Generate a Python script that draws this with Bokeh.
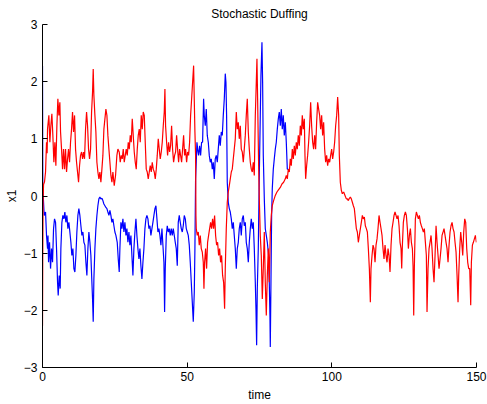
from bokeh.plotting import figure
from bokeh.models import FixedTicker, Range1d
from bokeh.embed import file_html
from bokeh.resources import INLINE

x_ticks = [0, 50, 100, 150]
y_ticks = [-3, -2, -1, 0, 1, 2, 3]

# red trajectory: (time, x1)
red = [
    (0.0, -2.27), (0.08, -1.16), (0.2, -0.1), (0.36, 0.2), (0.7, 0.25), (1.05, 0.42), (1.39, 0.94), (1.6, 0.75),
    (1.74, 1.17), (2.2, 1.41), (2.55, 0.94), (2.89, 1.23), (3.24, 1.44), (3.58, 1.06), (3.93, 0.59), (4.28, 0.94),
    (4.62, 0.53), (4.97, 1.23), (5.31, 1.70), (5.66, 1.41), (6.0, 1.64), (6.24, 1.12), (6.58, 0.82), (6.93, 0.47),
    (7.27, 0.82), (7.62, 0.47), (7.96, 0.82), (8.31, 0.42), (8.66, 0.65), (9.0, 0.82), (9.35, 0.59), (9.69, 0.94),
    (10.04, 1.17), (10.38, 1.47), (10.73, 1.12), (11.08, 1.41), (11.42, 0.82), (11.77, 0.59), (12.11, 0.42),
    (12.46, 0.24), (12.8, 0.53), (13.15, 0.71), (13.5, 0.77), (13.84, 0.65), (14.19, 0.77), (14.53, 0.65),
    (14.88, 1.17), (15.23, 1.47), (15.57, 1.23), (15.92, 0.82), (16.26, 0.65), (16.61, 0.82), (16.96, 1.47),
    (17.3, 1.82), (17.53, 2.22), (17.76, 1.76), (18.11, 1.41), (18.45, 1.12), (18.8, 0.59), (19.14, 0.42),
    (19.49, 0.30), (19.83, 0.42), (20.18, 0.24), (20.53, 0.47), (20.87, 0.71), (21.22, 1.17), (21.57, 1.35),
    (21.91, 1.52), (22.26, 1.41), (22.6, 1.06), (22.95, 0.82), (23.3, 0.59), (23.64, 0.36), (23.99, 0.24),
    (24.33, 0.42), (24.79, 0.18), (25.25, 0.36), (25.71, 0.71), (26.06, 0.82),
    (26.52, 0.77), (26.87, 0.59), (27.21, 0.71), (27.56, 0.65), (27.91, 0.82), (28.25, 0.59), (28.6, 0.71),
    (28.94, 0.82), (29.29, 0.71), (29.64, 0.94), (29.98, 0.82), (30.33, 1.06), (30.67, 0.94), (31.02, 1.35),
    (31.36, 1.06), (31.71, 0.77), (32.06, 0.59), (32.4, 0.47), (32.75, 0.82), (33.09, 1.06), (33.44, 1.17),
    (33.78, 0.94), (34.13, 1.41), (34.48, 1.17), (34.82, 1.47), (35.17, 1.41), (35.51, 0.94), (35.86, 0.47),
    (36.2, 0.42), (36.55, 0.30), (36.9, 0.42), (37.24, 0.53), (37.59, 0.42), (37.93, 0.59), (38.28, 0.47),
    (38.63, 0.42), (38.97, 0.30), (39.32, 0.47), (39.66, 0.71), (40.01, 1.00), (40.35, 0.82), (40.7, 0.65),
    (41.05, 0.77), (41.39, 0.94), (41.74, 1.23), (42.08, 1.47), (42.31, 1.87), (42.54, 1.23), (42.89, 0.94),
    (43.24, 0.71), (43.58, 0.94), (43.93, 0.77), (44.27, 0.88), (44.62, 1.23), (44.96, 0.82), (45.31, 0.59),
    (45.66, 0.71), (46.0, 0.77), (46.35, 1.06), (46.69, 0.82), (47.04, 0.59), (47.39, 0.82), (47.73, 0.71),
    (48.08, 0.59), (48.42, 0.82), (48.77, 1.06), (49.11, 0.71), (49.46, 0.82), (49.81, 0.59), (50.15, 0.77),
    (50.5, 0.71), (50.84, 0.94), (51.19, 1.41), (51.54, 1.70), (51.88, 1.99), (52.23, 2.28),
    (52.45, 1.70), (52.68, 1.12), (52.91, 0.71), (53.03, -0.34), (53.14, -0.57), (53.49, -0.69), (53.84, -0.63),
    (54.18, -0.86), (54.53, -0.69), (54.87, -0.92), (55.22, -0.98), (55.57, -1.16), (55.8, -1.62), (56.03, -1.16),
    (56.37, -0.92), (56.72, -1.27), (57.06, -0.81), (57.41, -0.69), (57.76, -0.57), (58.1, -0.46), (58.45, -0.57),
    (58.79, -0.40), (59.14, -0.57), (59.48, -0.34), (59.83, -0.69), (60.18, -0.86), (60.52, -0.81), (60.87, -1.04),
    (61.21, -0.92), (61.56, -1.16), (61.9, -1.04), (62.25, -1.39), (62.6, -1.51), (62.94, -1.97), (63.17, -1.27),
    (63.52, -0.57), (63.86, -0.11), (64.21, 0.07), (64.56, 0.18), (64.9, 0.30), (65.25, 0.42), (65.59, 0.47),
    (65.94, 0.65), (66.28, 0.82), (66.63, 1.00), (66.98, 1.47), (67.32, 1.17), (67.67, 1.29), (68.01, 1.00),
    (68.36, 1.23), (68.7, 0.82), (69.05, 0.77), (69.4, 0.59), (69.74, 0.82), (70.09, 1.06), (70.43, 1.41),
    (70.78, 1.70), (71.13, 1.12), (71.47, 0.82), (71.82, 0.59), (72.16, 0.47), (72.51, 0.42), (72.85, 0.59),
    (73.2, 0.36), (73.55, 1.41), (73.89, 1.99), (74.12, 2.40), (74.35, 1.70), (74.7, 0.53), (74.93, -0.05),
    (75.27, -0.69), (75.62, -1.04), (75.97, -1.80), (76.31, -1.27), (76.66, -0.63), (77.0, -1.51), (77.35, -2.09),
    (77.7, -1.39), (78.04, -0.92), (78.38, -1.51),
    (78.73, -0.63), (79.07, -0.34), (79.42, -0.17), (79.88, -0.08), (80.46, 0.01), (81.03, 0.07), (81.61, 0.11),
    (82.19, 0.15), (82.76, 0.21), (83.34, 0.24), (83.92, 0.30), (84.26, 0.36), (84.61, 0.30), (84.95, 0.47),
    (85.3, 0.42), (85.64, 0.65), (85.99, 0.53), (86.34, 0.82), (86.68, 0.65), (87.03, 0.88), (87.37, 0.71),
    (87.72, 0.94), (88.06, 0.82), (88.41, 1.06), (88.76, 0.88), (89.1, 1.23), (89.45, 1.06), (89.79, 1.41),
    (90.14, 1.17), (90.49, 1.35), (90.72, 0.71), (90.95, 0.30), (91.29, 0.53), (91.64, 0.71), (91.98, 0.94),
    (92.33, 1.23), (92.68, 1.64), (93.02, 1.23), (93.37, 0.94), (93.71, 0.82), (94.06, 1.06), (94.4, 0.82),
    (94.75, 1.29), (95.1, 1.64), (95.44, 1.52), (95.79, 1.41), (96.13, 1.17), (96.48, 1.41), (96.82, 1.06),
    (97.17, 1.29), (97.52, 0.82), (97.86, 0.59), (98.21, 0.71), (98.55, 0.53), (98.9, 0.65), (99.25, 0.59),
    (99.59, 0.71), (99.94, 0.82), (100.28, 0.65), (100.63, 0.77), (100.97, 0.94), (101.32, 1.23), (101.67, 1.41),
    (102.01, 1.73), (102.36, 1.41), (102.59, 0.71), (102.93, 0.24), (103.28, 0.10), (103.63, 0.04), (104.09, 0.07),
    (104.55, 0.01),
    (105.01, -0.05), (105.36, -0.05), (105.71, -0.08), (106.05, -0.04), (106.4, -0.02), (106.74, -0.05),
    (107.09, -0.11), (107.44, -0.17), (107.78, -0.22), (108.13, -0.40), (108.47, -0.57), (108.82, -0.63),
    (109.16, -0.81), (109.51, -0.69), (109.86, -0.57), (110.2, -0.46), (110.55, -0.34), (110.89, -0.40),
    (111.24, -0.37), (111.58, -0.52), (111.93, -0.57), (112.28, -0.63), (112.62, -0.92), (112.97, -1.27),
    (113.31, -1.86), (113.54, -1.27), (113.89, -1.04), (114.24, -0.86), (114.58, -0.92), (114.93, -1.16),
    (115.27, -0.86), (115.62, -0.75), (115.96, -0.57), (116.31, -0.34), (116.66, -0.46), (117.0, -0.57),
    (117.35, -0.69), (117.69, -0.92), (118.04, -1.10), (118.39, -0.86), (118.73, -1.04), (119.08, -1.16),
    (119.42, -0.92), (119.77, -1.04), (120.11, -1.33), (120.46, -0.86), (120.81, -0.57), (121.15, -0.46),
    (121.5, -0.34), (121.84, -0.28), (122.19, -0.34), (122.53, -0.40), (122.88, -0.34), (123.23, -0.52),
    (123.57, -0.81), (123.92, -0.92), (124.15, -1.27), (124.38, -0.86), (124.72, -0.46), (125.07, -0.34),
    (125.42, -0.28), (125.76, -0.34), (126.11, -0.57), (126.45, -0.92), (126.8, -0.69), (127.15, -0.57),
    (127.49, -0.81), (127.84, -0.92), (128.07, -1.22), (128.3, -2.09), (128.53, -1.22), (128.87, -0.40),
    (129.22, -0.28), (129.56, -0.34), (129.91, -0.40), (130.26, -0.34), (130.6, -0.46),
    (130.94, -0.52), (131.29, -0.57), (131.64, -0.63), (131.98, -0.57), (132.33, -0.81), (132.67, -1.04),
    (132.9, -2.03), (133.25, -1.27), (133.6, -0.92), (133.94, -0.81), (134.29, -0.69), (134.63, -0.92),
    (134.98, -1.27), (135.32, -1.51), (135.67, -1.04), (136.02, -0.52), (136.36, -0.81), (136.71, -1.04),
    (137.05, -1.27), (137.4, -1.10), (137.74, -0.92), (138.09, -0.69), (138.44, -0.63), (138.78, -0.57),
    (139.13, -0.69), (139.47, -0.81), (139.82, -0.92), (140.16, -1.16), (140.51, -0.86), (140.86, -0.63),
    (141.2, -0.52), (141.55, -0.46), (141.89, -0.57), (142.24, -0.63), (142.58, -0.81), (142.93, -0.98),
    (143.28, -1.39), (143.62, -1.86), (143.85, -1.39), (144.2, -0.92), (144.54, -0.63), (144.89, -0.81),
    (145.24, -1.04), (145.58, -0.63), (145.93, -0.40), (146.27, -0.46), (146.62, -0.92), (146.96, -1.16),
    (147.31, -1.27), (147.66, -1.27), (148.0, -1.91), (148.23, -1.16), (148.58, -0.86), (148.92, -0.81),
    (149.27, -0.75), (149.62, -0.69), (149.96, -0.81),
]

# blue trajectory: (time, x1), merges with red near t = 85
blue = [
    (0.0, 2.28), (0.1, 0.24), (0.36, -0.11), (0.59, -0.34), (1.05, -0.28), (1.39, -0.69), (1.74, -0.92),
    (1.9, -0.69), (2.09, -1.16), (2.43, -0.81), (2.78, -1.27), (3.12, -0.92), (3.47, -1.16), (3.82, -0.57),
    (4.16, -0.40), (4.51, -0.46), (4.85, -0.92), (5.2, -1.51), (5.43, -1.74), (5.77, -1.39), (6.12, -1.62),
    (6.35, -0.92), (6.7, -0.46), (7.04, -0.34), (7.39, -0.40), (7.73, -0.28), (8.08, -0.46), (8.43, -0.34),
    (8.77, -0.57), (9.12, -0.46), (9.46, -0.63), (9.81, -0.81), (10.15, -1.04), (10.5, -0.92), (10.85, -1.27),
    (11.19, -1.33), (11.54, -1.04), (11.88, -0.63), (12.23, -0.34), (12.57, -0.22), (12.92, -0.34),
    (13.27, -0.52), (13.61, -0.69), (13.96, -0.63), (14.3, -0.81), (14.65, -0.86), (15.0, -1.16),
    (15.34, -1.39), (15.69, -0.92), (16.03, -0.63), (16.38, -0.81), (16.72, -1.04), (17.07, -1.51),
    (17.3, -1.80), (17.53, -2.20), (17.76, -1.45), (18.11, -0.92), (18.45, -0.57), (18.8, -0.34),
    (19.14, -0.17), (19.49, -0.05), (19.83, -0.02), (20.18, -0.05), (20.53, -0.04), (20.87, -0.08),
    (21.22, -0.14), (21.57, -0.17), (21.91, -0.20), (22.26, -0.22), (22.6, -0.28), (22.95, -0.34),
    (23.3, -0.25), (23.64, -0.34), (23.99, -0.46), (24.33, -0.40), (24.68, -0.52), (25.02, -0.63),
    (25.37, -0.69), (25.83, -0.81), (26.18, -1.10), (26.52, -1.33), (26.75, -0.92), (27.1, -0.46),
    (27.45, -0.57), (27.79, -0.40), (28.14, -0.63), (28.48, -0.46), (28.83, -0.69), (29.17, -0.57),
    (29.52, -0.81), (29.87, -0.63), (30.21, -0.86), (30.56, -0.69), (30.9, -1.04), (31.25, -1.39),
    (31.59, -0.92), (31.94, -0.63), (32.29, -0.40), (32.63, -0.69), (32.98, -0.92), (33.32, -1.10),
    (33.67, -0.92), (34.01, -1.22), (34.36, -1.45), (34.71, -1.16), (35.05, -0.92), (35.4, -0.57),
    (35.74, -0.40), (36.09, -0.34), (36.44, -0.40), (36.78, -0.57), (37.13, -0.52), (37.47, -0.69),
    (37.82, -0.57), (38.16, -0.46), (38.51, -0.34), (38.86, -0.22), (39.2, -0.17), (39.55, -0.40),
    (39.89, -0.63), (40.24, -0.57), (40.58, -0.69), (40.93, -0.86), (41.28, -0.57), (41.62, -0.86),
    (41.97, -1.16), (42.2, -2.03), (42.43, -1.27), (42.78, -0.69), (43.12, -0.52), (43.47, -0.63),
    (43.81, -0.57), (44.16, -0.69), (44.5, -0.57), (44.85, -0.69), (45.2, -0.57), (45.54, -0.69),
    (45.89, -0.81), (46.23, -0.92), (46.58, -1.22), (46.92, -0.46), (47.27, -0.34), (47.62, -0.46),
    (47.96, -0.57), (48.31, -0.63), (48.65, -0.52), (49.0, -0.34), (49.35, -0.40), (49.69, -0.57),
    (50.04, -0.63), (50.38, -0.69), (50.73, -0.86), (51.07, -1.16), (51.42, -1.51), (51.77, -1.86),
    (52.11, -2.20), (52.46, -1.68), (52.68, -0.92), (52.91, 0.30), (53.14, 0.59), (53.38, 0.94),
    (53.61, 0.82), (53.95, 0.71), (54.3, 0.88), (54.64, 0.71), (54.99, 0.94), (55.33, 0.94), (55.68, 1.70),
    (55.91, 1.41), (56.26, 1.23), (56.6, 1.52), (56.95, 1.06), (57.3, 0.94), (57.64, 0.71), (57.99, 0.59),
    (58.33, 0.65), (58.68, 0.47), (59.02, 0.59), (59.37, 0.30), (59.71, 0.65), (60.06, 0.71), (60.41, 0.59),
    (60.75, 0.82), (61.1, 1.06), (61.44, 0.88), (61.79, 1.12), (62.14, 1.06), (62.48, 1.41), (62.83, 1.70),
    (63.17, 2.14), (63.4, 1.99), (63.63, 1.41), (63.86, 0.24), (64.21, -0.11), (64.56, -0.22), (64.9, -0.28),
    (65.25, -0.40), (65.59, -0.57), (65.94, -0.46), (66.28, -0.69), (66.63, -0.92), (66.98, -1.27),
    (67.32, -0.92), (67.67, -0.81), (68.01, -0.57), (68.36, -0.46), (68.7, -0.69), (69.05, -0.40),
    (69.4, -0.34), (69.74, -0.52), (70.09, -0.46), (70.43, -0.81), (70.78, -0.92), (71.13, -1.16),
    (71.47, -0.81), (71.82, -0.57), (72.16, -0.40), (72.51, -0.57), (72.85, -0.46), (73.2, -0.92),
    (73.55, -1.51), (73.78, -1.97), (74.01, -2.61), (74.24, -1.62), (74.58, -0.92), (74.93, 0.36),
    (75.27, 1.41), (75.5, 2.11), (75.85, 2.69), (76.08, 1.99), (76.31, 0.71), (76.66, -0.05), (77.0, -0.57),
    (77.35, -0.69), (77.7, -0.81), (77.92, -0.92), (78.15, -1.04), (78.38, -1.51), (78.61, -2.09),
    (78.73, -2.64), (78.96, -1.51), (79.19, -0.34), (79.42, 0.13), (79.77, 0.47), (80.11, 0.65),
    (80.46, 0.82), (80.8, 0.94), (81.15, 1.17), (81.5, 1.35), (81.84, 1.47), (82.19, 1.23), (82.53, 1.52),
    (82.88, 1.17), (83.22, 1.41), (83.57, 1.06), (83.92, 1.29), (84.26, 0.94), (84.61, 0.47), (84.95, 0.47),
]

red_time = [t for t, _ in red]
red_x1 = [v for _, v in red]
blue_time = [t for t, _ in blue]
blue_x1 = [v for _, v in blue]

FONT = "Liberation Sans"

p = figure(width=487, height=404, output_backend="svg", toolbar_location=None,
           x_range=Range1d(0, 150), y_range=Range1d(-3, 3),
           min_border_left=42, min_border_right=11, min_border_top=23, min_border_bottom=37)

p.title.text = "Stochastic Duffing"
p.title.align = "center"
p.title.text_font = FONT
p.title.text_font_size = "12px"
p.title.text_font_style = "normal"
p.title.text_color = "black"
p.title.standoff = 8

p.line(blue_time, blue_x1, line_color="#0000ff", line_width=1.2)
p.line(red_time, red_x1, line_color="#ff0000", line_width=1.2)

p.grid.visible = False
p.outline_line_color = None
p.background_fill_color = "white"
p.border_fill_color = "white"

for ax in (p.xaxis[0], p.yaxis[0]):
    ax.major_tick_in = 5
    ax.major_tick_out = 0
    ax.minor_tick_line_color = None
    ax.axis_line_color = "black"
    ax.major_tick_line_color = "black"
    ax.major_label_text_font = FONT
    ax.major_label_text_font_size = "12px"
    ax.major_label_text_color = "black"
    ax.axis_label_text_font = FONT
    ax.axis_label_text_font_size = "12px"
    ax.axis_label_text_font_style = "normal"
    ax.axis_label_text_color = "black"

p.xaxis.ticker = FixedTicker(ticks=x_ticks)
p.yaxis.ticker = FixedTicker(ticks=y_ticks)
p.xaxis.axis_label = "time"
p.yaxis.axis_label = "x1"
p.xaxis.major_label_standoff = 4
p.xaxis.axis_label_standoff = 4
p.yaxis.major_label_standoff = 5
p.yaxis.axis_label_standoff = 2

open("out.html", "w").write(file_html(p, INLINE))
